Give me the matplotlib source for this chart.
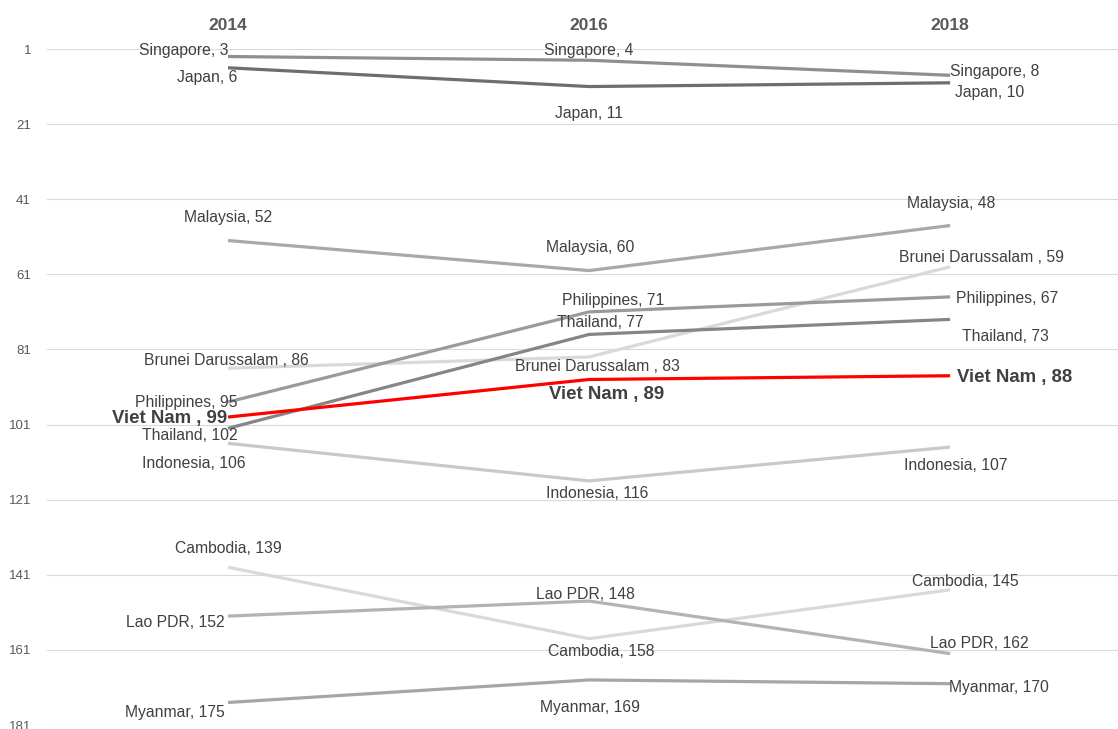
import matplotlib.pyplot as plt

# Data: ranking per year (lower is better)
years = ["2014", "2016", "2018"]

singapore = [3, 4, 8]
japan = [6, 11, 10]
malaysia = [52, 60, 48]
brunei = [86, 83, 59]
philippines = [95, 71, 67]
viet_nam = [99, 89, 88]
thailand = [102, 77, 73]
indonesia = [106, 116, 107]
cambodia = [139, 158, 145]
lao = [152, 148, 162]
myanmar = [175, 169, 170]

# Style: (name, values, colour, label offsets per year in pixels (dx, dy down))
series = [
    ("Singapore", singapore, "#8f8f8f", [(-44, -6.5), (0, -10), (45, -4)]),
    ("Japan", japan, "#6e6e6e", [(-21, 10), (0, 26.5), (40, 10)]),
    ("Malaysia", malaysia, "#a8a8a8", [(0, -23.5), (1, -23.5), (1, -22.5)]),
    ("Brunei Darussalam ", brunei, "#d9d9d9", [(-1.5, -7.5), (8.5, 10), (31, -9)]),
    ("Philippines", philippines, "#9a9a9a", [(-41.5, 0.5), (24.5, -11), (57.5, 1.8)]),
    ("Thailand", thailand, "#858585", [(-38, 7), (11, -12), (55, 17)]),
    ("Indonesia", indonesia, "#c9c9c9", [(-34, 20), (8, 13), (6, 18)]),
    ("Cambodia", cambodia, "#d9d9d9", [(0, -19), (12.5, 13), (15.5, -8)]),
    ("Lao PDR", lao, "#b3b3b3", [(-52.5, 6.5), (-4, -7), (29, -10.5)]),
    ("Myanmar", myanmar, "#a6a6a6", [(-53.5, 10), (0.5, 28), (48.5, 4)]),
]
highlight = ("Viet Nam ", viet_nam, "#ff0000", [(-58, 1.5), (18, 15.5), (65, 1.5)])

text_color = "#595959"
label_color = "#404040"

plt.rcParams["font.family"] = ["Liberation Sans", "DejaVu Sans"]

fig = plt.figure(figsize=(11.18, 7.29), dpi=100)
ax = fig.add_axes([47 / 1118, 4 / 729, 1 - 47 / 1118, (725 - 49) / 729])

x = list(range(len(years)))


def draw(name, values, color, offsets, bold=False):
    ax.plot(x, values, color=color, linewidth=2.3, solid_capstyle="butt", zorder=3 if bold else 2)
    for xi, v, (dx, dy) in zip(x, values, offsets):
        ax.annotate(
            f"{name}, {v}",
            xy=(xi, v),
            xytext=(dx, -dy),
            textcoords="offset pixels",
            ha="center",
            va="center",
            fontsize=13.4 if bold else 11.3,
            fontweight="bold" if bold else "normal",
            color=label_color,
            zorder=4,
        )


for name, values, color, offsets in series:
    draw(name, values, color, offsets)
draw(*highlight, bold=True)

ax.set_xlim(-0.5014, 2.465)
ax.set_ylim(181, 1)
ax.set_yticks(range(1, 182, 20))
ax.tick_params(axis="y", length=0, pad=11.5, labelsize=9.5, labelcolor=text_color)
ax.set_xticks([])
ax.grid(axis="y", color="#d9d9d9", linewidth=0.8)
ax.set_axisbelow(True)
for spine in ax.spines.values():
    spine.set_visible(False)

for xi, year in zip(x, years):
    ax.annotate(
        year,
        xy=(xi, 1),
        xycoords=("data", "axes fraction"),
        xytext=(0, 19),
        textcoords="offset pixels",
        ha="center",
        va="baseline",
        fontsize=12.5,
        fontweight="bold",
        color=text_color,
    )

fig.savefig("out.png", dpi=100)
